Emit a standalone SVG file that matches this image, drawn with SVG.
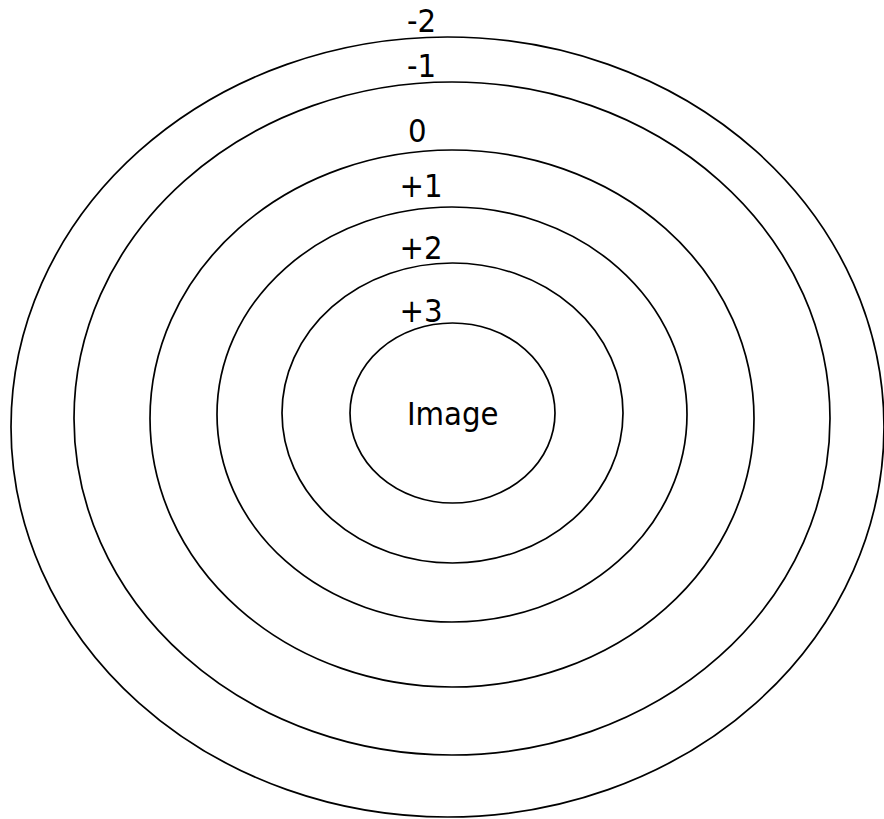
<svg xmlns="http://www.w3.org/2000/svg" width="884" height="819" viewBox="0 0 884 819">
<style>
.ring{fill:none;stroke:#000;stroke-width:1.7}
.lbl{font-family:"DejaVu Sans Condensed","DejaVu Sans",sans-serif;font-stretch:condensed;font-size:32.5px;fill:#000}
</style>
<rect width="884" height="819" fill="#fff"/>
<g id="ring-m2"><ellipse class="ring" cx="447.5" cy="427" rx="436.5" ry="390"/><text class="lbl" x="407" y="32">-2</text></g>
<g id="ring-m1"><ellipse class="ring" cx="452" cy="418.5" rx="378" ry="336.5"/><text class="lbl" x="407" y="77">-1</text></g>
<g id="ring-0"><ellipse class="ring" cx="452" cy="418.5" rx="302" ry="268.5"/><text class="lbl" x="408" y="142">0</text></g>
<g id="ring-p1"><ellipse class="ring" cx="452" cy="414.5" rx="235" ry="207.5"/><text class="lbl" x="399.5" y="197">+1</text></g>
<g id="ring-p2"><ellipse class="ring" cx="452.5" cy="413" rx="170.5" ry="150"/><text class="lbl" x="399.5" y="259">+2</text></g>
<g id="ring-p3"><text class="lbl" x="399.5" y="322">+3</text></g>
<g id="image"><ellipse class="ring" cx="452.5" cy="413" rx="102.5" ry="90"/><text class="lbl" x="407" y="425">Image</text></g>
<g id="connectors"/>
</svg>
